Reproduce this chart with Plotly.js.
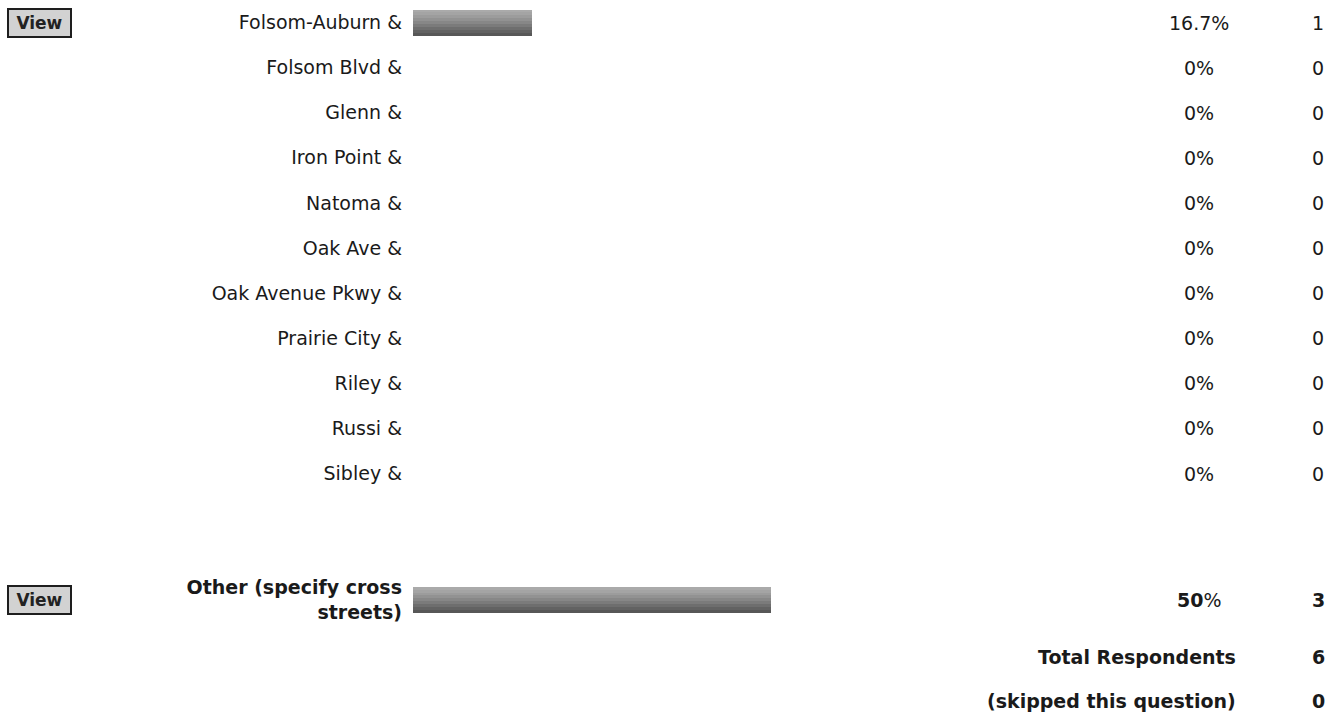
<!DOCTYPE html>
<html><head><meta charset="utf-8">
<script src="https://cdn.plot.ly/plotly-3.0.1.min.js"></script>
<style>html,body{margin:0;padding:0;background:#fff;}#chart{width:1337px;height:717px;}</style>
</head><body><div id="chart"></div>
<script>
// ---- data ----
const categories = ["Folsom-Auburn &", "Folsom Blvd &", "Glenn &", "Iron Point &", "Natoma &", "Oak Ave &",
  "Oak Avenue Pkwy &", "Prairie City &", "Riley &", "Russi &", "Sibley &", "Other (specify cross streets)"];
const percentValues = [16.7, 0, 0, 0, 0, 0, 0, 0, 0, 0, 0, 50];
const responseCounts = [1, 0, 0, 0, 0, 0, 0, 0, 0, 0, 0, 3];
const hasComments = [true, false, false, false, false, false, false, false, false, false, false, true];
const emphasized = [false, false, false, false, false, false, false, false, false, false, false, true];
const footerLabels = ["Total Respondents", "(skipped this question)"];
const footerValues = [6, 0];

// ---- layout helpers ----
const W = 1337, H = 717;
const PLOT_LEFT = 413;
const ROW_PX = 45.1, ROW0_PX = 22.5;
const PX_PER_PCT = 7.15;
const plotW = W - PLOT_LEFT;
const px2paper = px => (px - PLOT_LEFT) / plotW;

const rowPos = categories.map((c, i) => i < categories.length - 1 ? i : i + 1.8);
const lastPos = rowPos[rowPos.length - 1];
const footerPos = [lastPos + 1.27, lastPos + 2.24];

function wrap(s, n) {
  const words = s.split(' '); const lines = []; let cur = '';
  words.forEach(w => {
    if (cur && (cur + ' ' + w).length > n) { lines.push(cur); cur = w; }
    else cur = cur ? cur + ' ' + w : w;
  });
  if (cur) lines.push(cur);
  return lines.join('<br>');
}
const tickText = categories.map((c, i) => emphasized[i] ? '<b>' + wrap(c, 20) + '</b>' : wrap(c, 20));

const FONT = "Verdana, 'DejaVu Sans', sans-serif";
const TXT = '#1a1a1a';
const FS = 19;

// gradient bar bands (top light -> bottom dark)
const bandColors = ['#aaaaaa', '#a4a4a4', '#9c9c9c', '#929292', '#878787', '#7b7b7b', '#6e6e6e', '#626262', '#575757'];
const barThick = 26 / ROW_PX;
const bw = barThick / bandColors.length;
const traces = bandColors.map((col, i) => ({
  type: 'bar', orientation: 'h',
  x: percentValues, y: rowPos,
  width: i < bandColors.length - 1 ? bw * 1.08 : bw,
  offset: -barThick / 2 + i * bw,
  marker: { color: col, line: { width: 0 } },
  hoverinfo: 'skip', showlegend: false
}));

const annotations = [];
categories.forEach((c, i) => {
  const b = emphasized[i];
  annotations.push({
    xref: 'paper', yref: 'y', x: px2paper(1199), y: rowPos[i], xanchor: 'center', yanchor: 'middle',
    text: (b ? '<b>' + percentValues[i] + '</b>' : percentValues[i]) + '%',
    showarrow: false, font: { family: FONT, size: FS, color: TXT }
  });
  annotations.push({
    xref: 'paper', yref: 'y', x: px2paper(1318), y: rowPos[i], xanchor: 'center', yanchor: 'middle',
    text: b ? '<b>' + responseCounts[i] + '</b>' : String(responseCounts[i]),
    showarrow: false, font: { family: FONT, size: FS, color: TXT }
  });
  if (hasComments[i]) {
    annotations.push({
      xref: 'paper', yref: 'y', x: px2paper(39.5), y: rowPos[i], xanchor: 'center', yanchor: 'middle',
      text: '<b>View</b>', showarrow: false, width: 61, height: 26,
      bgcolor: '#d2d2d2', bordercolor: '#1e1e1e', borderwidth: 2, borderpad: 0,
      font: { family: FONT, size: 17, color: '#222' }
    });
  }
});
footerLabels.forEach((f, i) => {
  annotations.push({
    xref: 'paper', yref: 'y', x: px2paper(1238), y: footerPos[i], xanchor: 'right', yanchor: 'middle',
    text: '<b>' + f + '</b>', showarrow: false, font: { family: FONT, size: FS, color: TXT }
  });
  annotations.push({
    xref: 'paper', yref: 'y', x: px2paper(1318), y: footerPos[i], xanchor: 'center', yanchor: 'middle',
    text: '<b>' + footerValues[i] + '</b>', showarrow: false, font: { family: FONT, size: FS, color: TXT }
  });
});

const yTop = -ROW0_PX / ROW_PX;
const yBot = (H - ROW0_PX) / ROW_PX;

const layout = {
  width: W, height: H,
  margin: { l: PLOT_LEFT, r: 0, t: 0, b: 0, pad: 0 },
  paper_bgcolor: '#fff', plot_bgcolor: '#fff',
  barmode: 'overlay', bargap: 0,
  showlegend: false,
  xaxis: { range: [0, plotW / PX_PER_PCT], showgrid: false, zeroline: false, showticklabels: false, showline: false, ticks: '', fixedrange: true },
  yaxis: {
    range: [yBot, yTop], tickmode: 'array', tickvals: rowPos, ticktext: tickText,
    showgrid: false, zeroline: false, showline: false, ticks: '', ticklabelstandoff: 10,
    tickfont: { family: FONT, size: FS, color: TXT }, fixedrange: true
  },
  annotations: annotations,
  font: { family: FONT, size: FS, color: TXT }
};

Plotly.newPlot('chart', traces, layout, { displayModeBar: false, staticPlot: true });
</script>
</body></html>
